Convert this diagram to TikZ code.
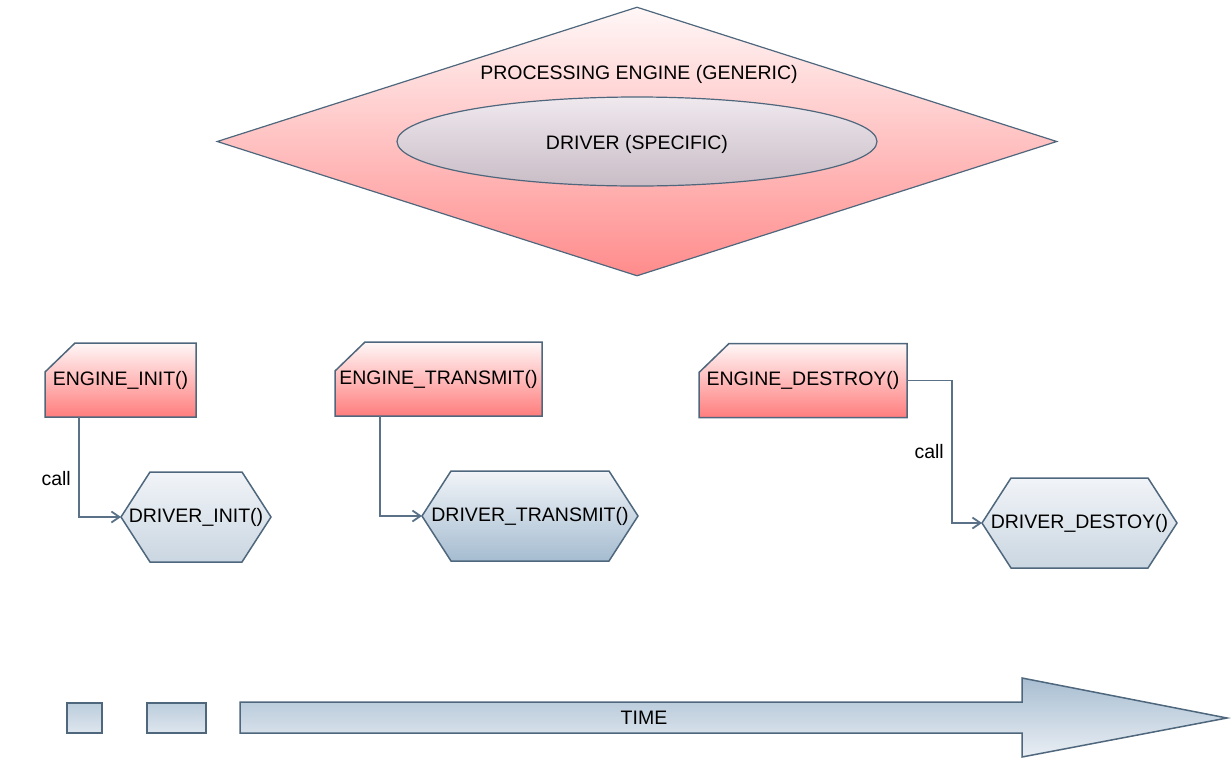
\documentclass[tikz,border=0pt]{standalone}
\usepackage{fontspec}
\setmainfont{Liberation Sans}
\usetikzlibrary{shapes.geometric,arrows.meta,positioning,backgrounds}

\definecolor{edgeline}{HTML}{4E677D}
\definecolor{callline}{HTML}{5A7188}
\definecolor{pinktop}{HTML}{FFF7F7}
\definecolor{pinkbot}{HTML}{FF7D7D}
\definecolor{diamondbot}{HTML}{FF8C8C}
\definecolor{ovaltop}{HTML}{EFE9EE}
\definecolor{ovalbot}{HTML}{C9BCC6}
\definecolor{bluetop}{HTML}{F1F4F8}
\definecolor{bluebot}{HTML}{CAD6E1}
\definecolor{darkbluebot}{HTML}{A5BCD0}
\definecolor{blocktop}{HTML}{BCCDDC}
\definecolor{blockbot}{HTML}{DEE6EE}
\definecolor{timetop}{HTML}{A8BED1}
\definecolor{timebot}{HTML}{E9EEF4}

\begin{document}
\begin{tikzpicture}[x=1pt,y=-1pt,>={Straight Barb[length=8pt,width=11pt]},
  font=\fontsize{19.5}{22}\selectfont,
  engine/.style={diamond, draw=edgeline, line width=1.2pt, inner sep=0pt,
    top color=pinktop, bottom color=diamondbot, minimum width=840pt, minimum height=269pt},
  driver/.style={ellipse, draw=edgeline, line width=1.2pt, inner sep=0pt,
    top color=ovaltop, bottom color=ovalbot, minimum width=480pt, minimum height=89pt},
  card/.style={inner sep=0pt, outer sep=0pt, minimum height=74pt},
  hexa/.style={inner sep=0pt, outer sep=0pt, minimum height=90pt},
  cardfill/.style={draw=edgeline, line width=1.5pt, top color=pinktop, bottom color=pinkbot},
  hexfill/.style={draw=edgeline, line width=1.5pt, top color=bluetop, bottom color=bluebot},
  block/.style={draw=edgeline, line width=1.5pt, inner sep=0pt,
    top color=blocktop, bottom color=blockbot, minimum height=30pt},
  call/.style={->, draw=callline, line width=1.8pt},
]
\useasboundingbox (0,0) rectangle (1232,764);

% processing engine
\node[engine] (engine) at (637,141.5) {};
\node (enginetext) at (639,74) {PROCESSING ENGINE (GENERIC)};
\node[driver] (driver) at (637,141.5) {\raisebox{-3pt}[\height][\depth]{DRIVER (SPECIFIC)}};

% engine calls
\node[card, minimum width=151pt] (einit) at (120.5,380) {ENGINE\_INIT()};
\node[card, minimum width=207pt] (etrans) at (438.5,379) {ENGINE\_TRANSMIT()};
\node[card, minimum width=208pt] (edest) at (803,380.5) {ENGINE\_DESTROY()};

% driver functions
\node[hexa, minimum width=150pt] (dinit) at (196,517) {DRIVER\_INIT()};
\node[hexa, minimum width=216pt] (dtrans) at (530,516) {DRIVER\_TRANSMIT()};
\node[hexa, minimum width=195pt] (ddest) at (1079.5,523) {DRIVER\_DESTOY()};

\begin{scope}[on background layer]
\foreach \n in {einit,etrans,edest}
  \shade[cardfill] ([xshift=30pt]\n.north west) -- (\n.north east) -- (\n.south east)
    -- (\n.south west) -- ([yshift=-29pt]\n.north west) -- cycle;
\foreach \n/\c in {dinit/bluebot,dtrans/darkbluebot,ddest/bluebot}
  \shade[hexfill, bottom color=\c] (\n.west) -- ([xshift=29pt]\n.north west)
    -- ([xshift=-29pt]\n.north east) -- (\n.east) -- ([xshift=-29pt]\n.south east)
    -- ([xshift=29pt]\n.south west) -- cycle;
\end{scope}

\draw[call] ([xshift=34pt]einit.south west) |- node[pos=0.31, left=4pt] {call} (dinit.west);
\draw[call] ([xshift=45pt]etrans.south west) |- (dtrans.west);
\draw[call] (edest.east) -- ([xshift=45pt]edest.east) |- node[pos=0.25, left=4pt] {call} (ddest.west);

% time line
\node[block, minimum width=35pt] (tick1) at (84.5,718) {};
\node[block, minimum width=59pt] (tick2) at (176.5,718) {};
\shade[draw=edgeline, line width=1.5pt, top color=timetop, bottom color=timebot]
  (240,702) -- (1022,702) -- (1022,678) -- (1227,718) -- (1022,757) -- (1022,733)
  -- (240,733) -- cycle;
\node (time) at (644,718) {TIME};
\end{tikzpicture}
\end{document}
